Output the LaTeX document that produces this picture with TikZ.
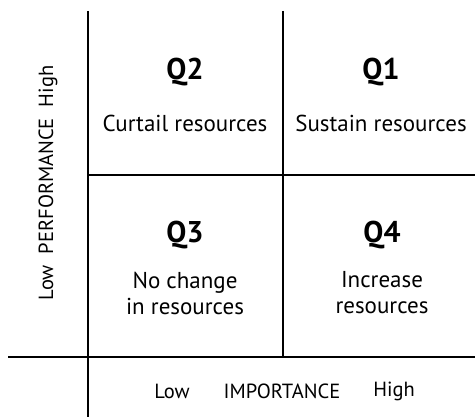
\documentclass[tikz,border=0pt]{standalone}
\usepackage{fontspec}
\setmainfont{PT Sans}
\usepackage{tikz}
\usetikzlibrary{positioning}
\tikzset{
  grid line/.style={line width=2pt},
  quad title/.style={font=\fontsize{30}{34}\selectfont\bfseries},
  quad text/.style={font=\fontsize{23}{26}\selectfont, align=center},
  axis text/.style={font=\fontsize{20.5}{24}\selectfont}
}

\begin{document}
\begin{tikzpicture}[x=1pt,y=-1pt]
\useasboundingbox (0,0) rectangle (475,417);

% Grid
\draw[grid line] (88,11) -- (88,417);
\draw[grid line] (283,11) -- (283,357);
\draw[grid line] (88,175) -- (475,175);
\draw[grid line] (8,357) -- (475,357);

% Quadrants
\node[quad title] (q2) at (185,72) {Q2};
\node[quad text] (q2txt) at (185,123) {Curtail resources};
\node[quad title] (q1) at (381,72) {Q1};
\node[quad text] (q1txt) at (381,123) {Sustain resources};
\node[quad title] (q3) at (185,235) {Q3};
\node[quad text] (q3txt) at (185,293) {No change\\in resources};
\node[quad title] (q4) at (382,235) {Q4};
\node[quad text] (q4txt) at (382,293) {Increase\\resources};

% Axes
\node[axis text] (xlow) at (172,391) {Low};
\node[axis text] (xlabel) at (282,391) {IMPORTANCE};
\node[axis text] (xhigh) at (394,391) {High};
\node[axis text, rotate=90] (ylabel) at (48,183) {Low\ \ PERFORMANCE\ \ High};
\end{tikzpicture}
\end{document}
